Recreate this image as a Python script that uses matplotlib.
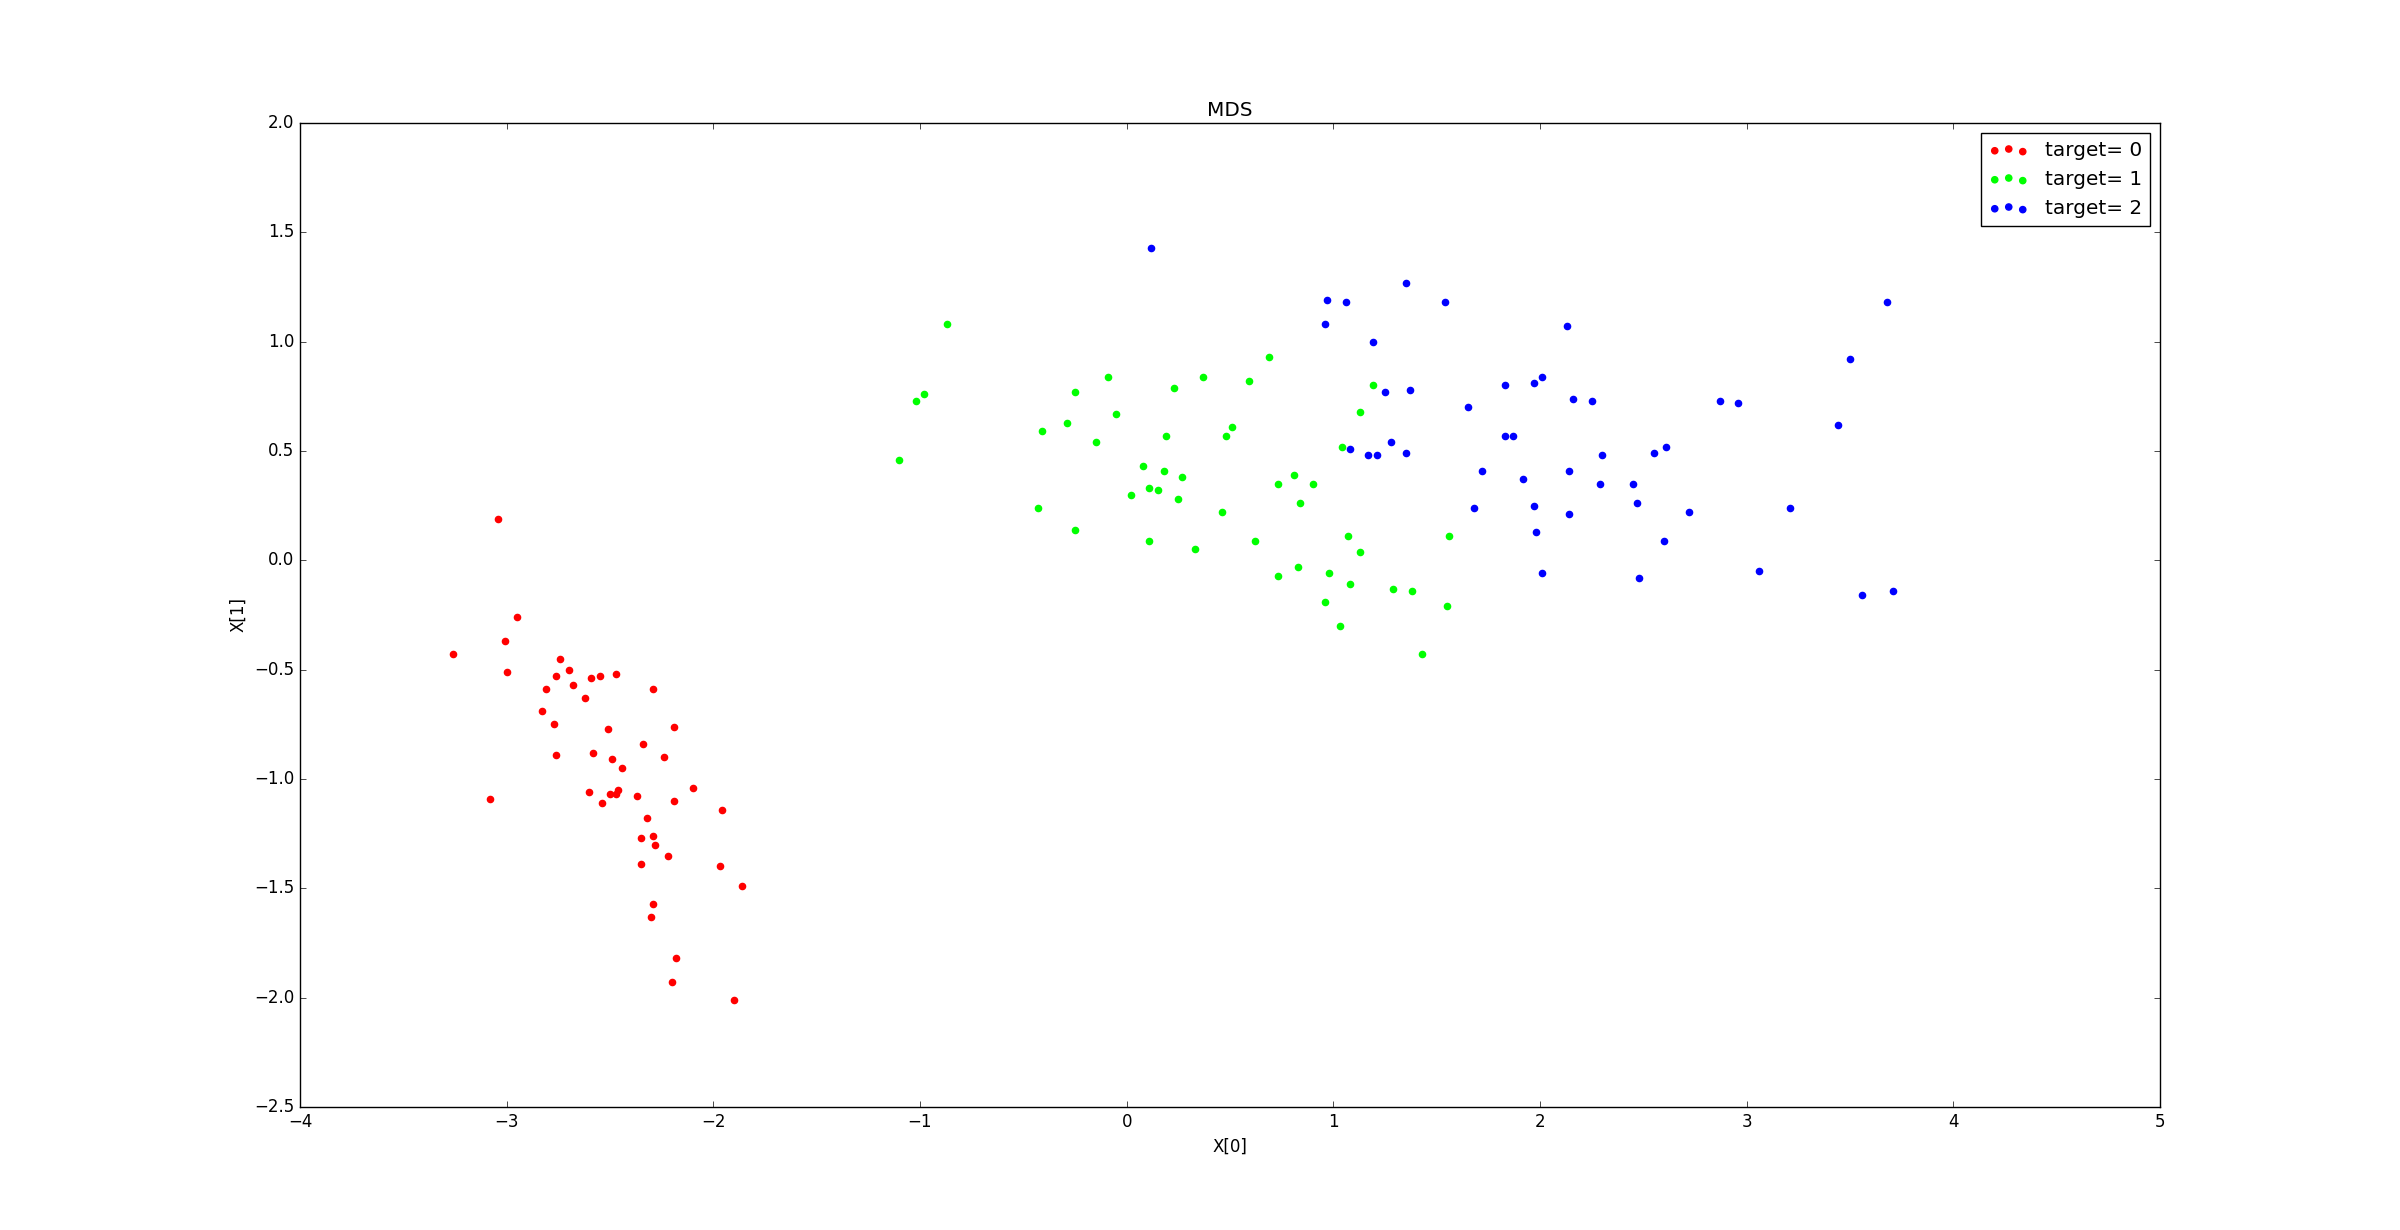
"""MDS projection of the iris data, classic matplotlib look."""
import matplotlib
matplotlib.use('Agg')
import matplotlib.pyplot as plt

plt.style.use('classic')

# class 0
x0 = [-3.04, -2.95, -3.01, -3.26, -3.00, -2.74, -2.70, -2.76, -2.68, -2.59,
      -2.55, -2.47, -2.81, -2.62, -2.29, -2.83, -2.77, -2.51, -2.19, -2.34,
      -2.76, -2.58, -2.49, -2.24, -2.44, -3.08, -2.60, -2.50, -2.46, -2.47,
      -2.54, -2.37, -2.10, -2.19, -1.96, -2.32, -2.29, -2.35, -2.28, -2.22,
      -2.35, -1.97, -1.86, -2.29, -2.30, -2.18, -2.20, -1.90]
y0 = [0.19, -0.26, -0.37, -0.43, -0.51, -0.45, -0.50, -0.53, -0.57, -0.54,
      -0.53, -0.52, -0.59, -0.63, -0.59, -0.69, -0.75, -0.77, -0.76, -0.84,
      -0.89, -0.88, -0.91, -0.90, -0.95, -1.09, -1.06, -1.07, -1.05, -1.07,
      -1.11, -1.08, -1.04, -1.10, -1.14, -1.18, -1.26, -1.27, -1.30, -1.35,
      -1.39, -1.40, -1.49, -1.57, -1.63, -1.82, -1.93, -2.01]

# class 1
x1 = [-0.87, -0.98, -1.02, -1.10, -0.09, -0.25, -0.05, -0.29, -0.41, -0.15,
      0.08, 0.11, 0.15, 0.02, -0.43, -0.25, 0.11, 0.69, 0.37, 0.59,
      0.23, 1.19, 1.13, 0.51, 0.19, 0.48, 1.04, 0.18, 0.27, 0.81,
      0.73, 0.90, 0.25, 0.84, 0.46, 0.33, 0.62, 1.07, 1.13, 1.56,
      0.73, 0.83, 0.98, 1.08, 1.29, 1.38, 0.96, 1.55, 1.03, 1.43]
y1 = [1.08, 0.76, 0.73, 0.46, 0.84, 0.77, 0.67, 0.63, 0.59, 0.54,
      0.43, 0.33, 0.32, 0.30, 0.24, 0.14, 0.09, 0.93, 0.84, 0.82,
      0.79, 0.80, 0.68, 0.61, 0.57, 0.57, 0.52, 0.41, 0.38, 0.39,
      0.35, 0.35, 0.28, 0.26, 0.22, 0.05, 0.09, 0.11, 0.04, 0.11,
      -0.07, -0.03, -0.06, -0.11, -0.13, -0.14, -0.19, -0.21, -0.30, -0.43]

# class 2
x2 = [1.19, 1.25, 1.37, 1.65, 1.08, 1.28, 1.17, 1.21, 1.35, 0.12,
      1.35, 0.97, 1.06, 1.54, 0.96, 2.13, 1.83, 1.97, 2.01, 2.16,
      2.25, 1.83, 1.87, 2.30, 2.55, 2.61, 1.72, 1.92, 2.14, 2.29,
      2.45, 1.68, 1.97, 2.14, 2.47, 2.72, 1.98, 2.60, 2.01, 2.48,
      3.68, 3.50, 2.87, 2.96, 3.44, 3.21, 3.06, 3.71, 3.56]
y2 = [1.00, 0.77, 0.78, 0.70, 0.51, 0.54, 0.48, 0.48, 0.49, 1.43,
      1.27, 1.19, 1.18, 1.18, 1.08, 1.07, 0.80, 0.81, 0.84, 0.74,
      0.73, 0.57, 0.57, 0.48, 0.49, 0.52, 0.41, 0.37, 0.41, 0.35,
      0.35, 0.24, 0.25, 0.21, 0.26, 0.22, 0.13, 0.09, -0.06, -0.08,
      1.18, 0.92, 0.73, 0.72, 0.62, 0.24, -0.05, -0.14, -0.16]

groups = [(x0, y0), (x1, y1), (x2, y2)]
colors = ['#ff0000', '#00ff00', '#0000ff']

fig = plt.figure(figsize=(24, 12.3), dpi=100)
ax = fig.add_subplot(111)

for i, ((xs, ys), c) in enumerate(zip(groups, colors)):
    ax.scatter(xs, ys, s=20, color=c, edgecolors=c, linewidths=1,
               label='target= %d' % i)

ax.set_xlim(-4, 5)
ax.set_ylim(-2.5, 2.0)
ax.set_xlabel('X[0]')
ax.set_ylabel('X[1]')
ax.set_title('MDS')
ax.legend(loc='best')

fig.savefig('out.png', dpi=100, facecolor='white')
